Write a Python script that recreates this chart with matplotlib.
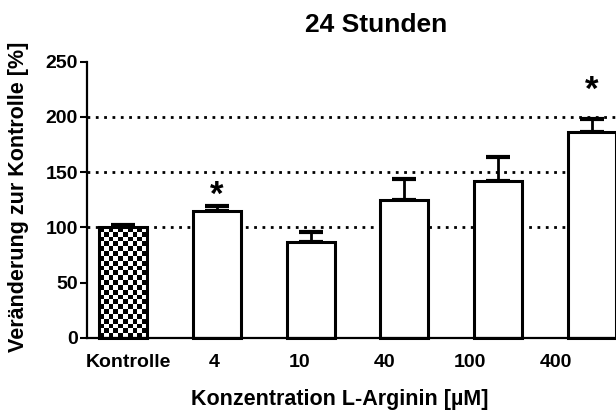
import numpy as np
import matplotlib
matplotlib.use("Agg")
import matplotlib.pyplot as plt

# ---- data ----
categories = ["Kontrolle", "4", "10", "40", "100", "400"]
values = [100, 115, 86.5, 125, 141.5, 186.5]
errors = [2.5, 4, 9.5, 19, 22.5, 12]
significant = [False, True, False, False, False, True]
star_levels = [None, 136.5, None, None, None, 231]

title = "24 Stunden"
xlabel = "Konzentration L-Arginin [µM]"
ylabel = "Veränderung zur Kontrolle [%]"
yticks = [0, 50, 100, 150, 200, 250]
gridlines = [100, 150, 200]

plt.rcParams['font.family'] = ['Liberation Sans', 'DejaVu Sans']
plt.rcParams['font.weight'] = 'bold'

fig = plt.figure(figsize=(6.16, 4.12), dpi=100)
ax = fig.add_axes([87/616, (412-337.7)/412, 529/616, 276/412])

x = np.arange(len(categories))
lw_edge = 2.2
bars = ax.bar(x, values, width=0.51, color='white', edgecolor='black',
              linewidth=lw_edge, zorder=2, clip_on=False)

ax.errorbar(x, values, yerr=[np.zeros(len(errors)), errors], fmt='none',
            ecolor='black', elinewidth=2.0, capsize=8.5, capthick=3.0,
            zorder=1.9, clip_on=False)

# checkerboard fill of the control bar
b0 = bars[0]
x0, y0, w, h = b0.get_x(), b0.get_y(), b0.get_width(), b0.get_height()
nc, nr = 10, 23
checker = (np.add.outer(np.arange(nr), np.arange(nc)) % 2).astype(float)
im = ax.imshow(checker, extent=[x0, x0 + w, y0, y0 + h], cmap='gray',
               interpolation='nearest', aspect='auto', zorder=2.05)
im.set_clip_path(b0)
b0.set_facecolor('none')
b0.set_zorder(2.1)

for g in gridlines:
    ax.axhline(g, color='black', lw=2.0, linestyle=(0, (1, 2)), zorder=1)

for xi, s, lvl in zip(x, significant, star_levels):
    if s:
        ax.text(xi, lvl - 16, "*", ha='center', va='baseline',
                fontsize=25, fontweight='bold', clip_on=False)

ax.set_xlim(-0.383, 5.255)
ax.set_ylim(0, 250)
ax.set_yticks(yticks)
ax.set_yticklabels([str(t) for t in yticks], fontsize=14, fontweight='bold')

label_pos = x * 0.91 + 0.06
ax.set_xticks(label_pos)
ax.set_xticklabels(categories, fontsize=14, fontweight='bold')
ax.tick_params(axis='x', length=0, pad=12)
ax.tick_params(axis='y', length=5, width=1.5, pad=1.5)

for side in ['top', 'right']:
    ax.spines[side].set_visible(False)
for side in ['left', 'bottom']:
    ax.spines[side].set_linewidth(1.6)

fig.text(376/616, 1 - 25/412, title, ha='center', va='center',
         fontsize=19, fontweight='bold')
fig.text(340/616, 1 - 399/412, xlabel, ha='center', va='center',
         fontsize=15.5, fontweight='bold')
fig.text(19/616, 1 - 197/412, ylabel, ha='center', va='center',
         rotation=90, fontsize=15.5, fontweight='bold')

fig.savefig("out.png", dpi=100)
